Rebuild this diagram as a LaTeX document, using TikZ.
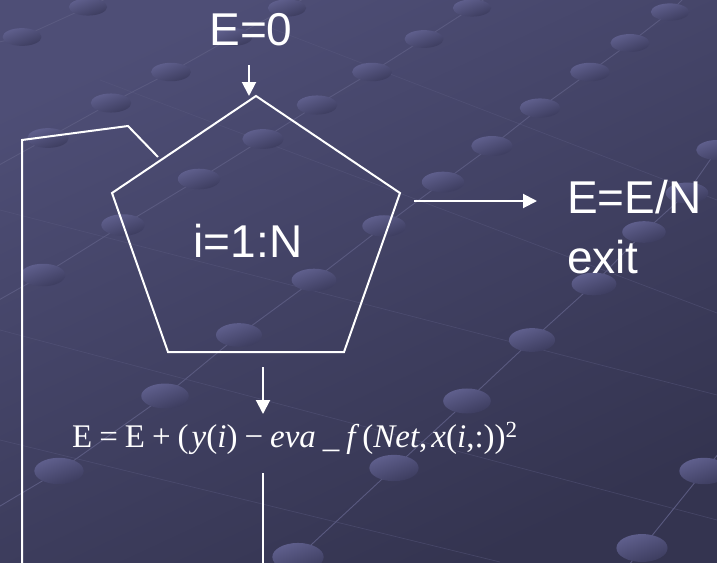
\documentclass[tikz,border=0pt]{standalone}
\usepackage{fontspec}
\setmainfont{Liberation Sans}
\newfontfamily\tms{Liberation Serif}
\usetikzlibrary{arrows.meta}
\definecolor{bgA}{RGB}{78,78,118}
\definecolor{bgB}{RGB}{52,52,80}
\definecolor{pearlA}{RGB}{96,96,142}
\definecolor{pearlB}{RGB}{60,60,94}
\definecolor{gridln}{RGB}{90,90,128}
\newcommand{\gapb}{\hspace{7pt}}
\begin{document}
\begin{tikzpicture}[x=1pt,y=-1pt,
  wire/.style={white,line width=2pt},
  arr/.style={wire,-{Triangle[length=14pt,width=14pt]}},
  lbl/.style={text=white,font=\fontsize{46}{50}\selectfont,inner sep=0pt},
  gridline/.style={gridln,line width=0.9pt},
  faint/.style={gridln,line width=0.7pt,opacity=0.45}]
\useasboundingbox (0,0) rectangle (717,562);
% background
\shade[top color=bgA,bottom color=bgB,shading angle=25] (0,0) rectangle (717,562);
% perspective grid lines
\draw[gridline] (-10,44) -- (22,37) -- (88,7) -- (110,-3);
\draw[gridline] (-10,170) -- (48,138) -- (111,103) -- (171,72) -- (233,37) -- (287,8) -- (305,-2);
\draw[gridline] (-10,305) -- (43,275) -- (123,225) -- (199,179) -- (263,139) -- (317,105) -- (372,72) -- (424,39) -- (472,8) -- (486,-2);
\draw[gridline] (-10,512) -- (59,471) -- (165,396) -- (239,335) -- (314,280) -- (384,226) -- (443,182) -- (492,146) -- (540,108) -- (590,72) -- (630,43) -- (670,12) -- (684,-2);
\draw[gridline] (240,600) -- (298,557) -- (394,468) -- (467,401) -- (532,340) -- (594,284) -- (644,232) -- (687,193) -- (717,150) -- (730,135);
\draw[gridline] (610,590) -- (642,548) -- (704,471) -- (730,440);
\draw[faint] (0,330) -- (717,520);
\draw[faint] (0,210) -- (717,395);
\draw[faint] (100,80) -- (717,313);
\draw[faint] (250,20) -- (717,200);
\draw[faint] (0,440) -- (500,562);
% pearls
\foreach \px/\py in {22/37,88/7,48/138,111/103,171/72,233/37,287/8,
  43/275,123/225,199/179,263/139,317/105,372/72,424/39,472/8,
  59/471,165/396,239/335,314/280,384/226,443/182,492/146,540/108,590/72,630/43,670/12,
  298/557,394/468,467/401,532/340,594/284,644/232,687/193,717/150,
  642/548,704/471}{
  \pgfmathsetmacro\rx{19+0.012*\py}
  \pgfmathsetmacro\ry{8.5+0.010*\py}
  \shade[top color=pearlA,bottom color=pearlB,shading angle=20]
    (\px,\py) ellipse [x radius=\rx pt, y radius=\ry pt];
}
% texts
\node[lbl,anchor=base] (e0) at (251,45) {E=0};
\node[lbl,anchor=base] (loopvar) at (248,257) {i=1:N};
\node[lbl,anchor=base west] (res) at (567,213) {E=E/N};
\node[lbl,anchor=base west] (exit) at (567,273) {exit};
\node[text=white,inner sep=0pt,anchor=base west,font=\tms\fontsize{33}{36}\selectfont] (eq) at (72,447)
  {E\gapb=\gapb E\gapb+\gapb(\hspace{3pt}\textit{y}(\textit{i})\gapb−\gapb\textit{eva}\gapb\_\gapb\textit{f}\hspace{3pt}(\textit{Net},\hspace{4pt}\textit{x}(\textit{i},:))\textsuperscript{2}};
% pentagon
\coordinate (pT) at (256,96);
\coordinate (pL) at (112,193);
\coordinate (pR) at (400,193);
\coordinate (pBL) at (168,352);
\coordinate (pBR) at (344,352);
\draw[wire,line join=miter] (pT) -- (pR) -- (pBR) -- (pBL) -- (pL) -- cycle;
% connectors
\coordinate (a1s) at (249,65);
\coordinate (a1e) at (249,96);
\draw[arr] (a1s) -- (a1e);
\coordinate (a2s) at (414,201);
\coordinate (a2e) at (537,201);
\draw[arr] (a2s) -- (a2e);
\coordinate (a3s) at (263,367);
\coordinate (a3e) at (263,414);
\draw[arr] (a3s) -- (a3e);
\coordinate (d1) at (263,473);
\coordinate (d2) at (263,563);
\draw[wire] (d1) -- (d2);
\coordinate (l0) at (22,563);
\coordinate (l1) at (22,140);
\coordinate (l2) at (128,126);
\coordinate (l3) at (158,157);
\draw[wire,line join=miter] (l0) -- (l1) -- (l2) -- (l3);
\end{tikzpicture}
\end{document}
